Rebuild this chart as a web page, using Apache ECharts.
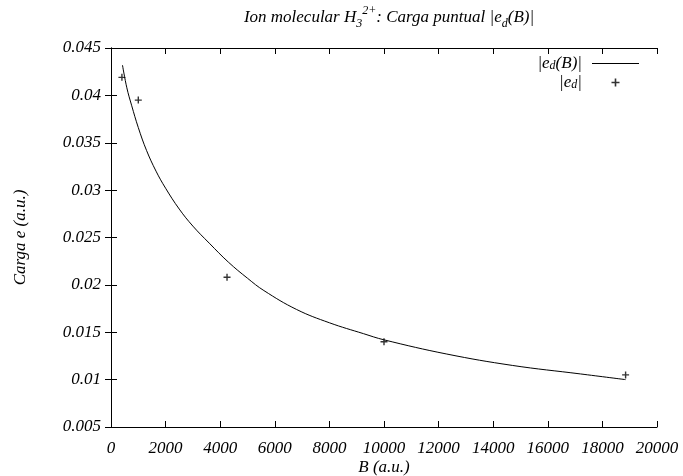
<!DOCTYPE html>
<html>
<head>
<meta charset="utf-8">
<script src="https://cdn.jsdelivr.net/npm/echarts@6/dist/echarts.min.js"></script>
<style>
  html, body { margin: 0; padding: 0; background: #fff; }
  #chart { width: 683px; height: 476px; }
</style>
</head>
<body>
<div id="chart"></div>
<script>
// fitted curve |e_d(B)|
const curveB = [420, 580, 760, 1000, 1300, 1650, 2000, 2500, 3000, 3600, 4300, 5000, 5600, 6800, 8000, 9250, 10000, 12300, 14700, 17200, 18850];
const curveE = [0.0432, 0.0408, 0.0389, 0.0366, 0.0342, 0.0320, 0.0302, 0.0280, 0.0262, 0.0244, 0.0224, 0.0207, 0.0194, 0.0174, 0.0160, 0.01485, 0.0142, 0.0127, 0.0115, 0.0106, 0.0100];

// computed points |e_d|
const pointB = [400, 1000, 4250, 10000, 18850];
const pointE = [0.0419, 0.0395, 0.0208, 0.0140, 0.0105];

const xMin = 0, xMax = 20000, xStep = 2000;
const yMin = 0.005, yMax = 0.045, yStep = 0.005;

const seriesNames = ["|e_d(B)|", "|e_d|"];

const font = "'Liberation Serif', 'Times New Roman', serif";
const plus = "path://M4,0H6V4H10V6H6V10H4V6H0V4H4Z";
const dash = "path://M0,0H47V1H0Z";

const rich = {
  sub: { fontFamily: font, fontStyle: "italic", fontSize: 12, color: "#000", verticalAlign: "bottom", lineHeight: 12 },
  sup: { fontFamily: font, fontStyle: "italic", fontSize: 12, color: "#000", verticalAlign: "top", lineHeight: 12 }
};

const chart = echarts.init(document.getElementById("chart"), null, { renderer: "canvas" });

const axisText = { fontFamily: font, fontStyle: "italic", fontSize: 17, color: "#000" };
const tick = { show: true, inside: true, length: 6, lineStyle: { color: "#000", width: 1 } };
const line = { show: true, lineStyle: { color: "#000", width: 1 } };

chart.setOption({
  backgroundColor: "#fff",
  animation: false,
  title: {
    text: "Ion molecular H{sub|3}{sup|2+}: Carga puntual |e{sub|d}(B)|",
    left: 384,
    textAlign: "center",
    top: 0,
    textStyle: { fontFamily: font, fontStyle: "italic", fontWeight: "normal", fontSize: 17, color: "#000", lineHeight: 25, rich: rich }
  },
  legend: {
    orient: "vertical",
    right: 39,
    top: 50,
    align: "right",
    itemWidth: 47,
    itemHeight: 8,
    itemGap: 2,
    data: [
      { name: seriesNames[0], icon: dash },
      { name: seriesNames[1], icon: plus }
    ],
    formatter: function (n) {
      return n === seriesNames[0] ? "|e{sub|d}(B)|" : "|e{sub|d}|";
    },
    textStyle: { fontFamily: font, fontStyle: "italic", fontSize: 17, color: "#000", lineHeight: 17, padding: [0, 5, 0, 0], rich: rich }
  },
  grid: { left: 111, right: 26, top: 48, bottom: 49, containLabel: false, outerBoundsMode: "none" },
  xAxis: [
    {
      type: "value", min: xMin, max: xMax, interval: xStep, position: "bottom",
      name: "B (a.u.)", nameLocation: "middle", nameGap: 32, nameMoveOverlap: false,
      nameTextStyle: axisText,
      axisLine: line, axisTick: tick, splitLine: { show: false },
      axisLabel: Object.assign({ margin: 13, formatter: v => String(v) }, axisText)
    },
    {
      type: "value", min: xMin, max: xMax, interval: xStep, position: "top",
      axisLine: line, axisTick: tick, splitLine: { show: false },
      axisLabel: { show: false }
    }
  ],
  yAxis: [
    {
      type: "value", min: yMin, max: yMax, interval: yStep, position: "left",
      name: "Carga e (a.u.)", nameLocation: "middle", nameGap: 82, nameMoveOverlap: false,
      nameTextStyle: axisText,
      axisLine: line, axisTick: tick, splitLine: { show: false },
      axisLabel: Object.assign({ margin: 10, formatter: v => String(+v.toFixed(3)) }, axisText)
    },
    {
      type: "value", min: yMin, max: yMax, interval: yStep, position: "right",
      axisLine: line, axisTick: tick, splitLine: { show: false },
      axisLabel: { show: false }
    }
  ],
  series: [
    {
      name: seriesNames[0],
      type: "line",
      xAxisIndex: 0, yAxisIndex: 0,
      data: curveB.map((b, i) => [b, curveE[i]]),
      smooth: 0.4,
      symbol: "none",
      lineStyle: { color: "#000", width: 1 },
      itemStyle: { color: "#000" }
    },
    {
      name: seriesNames[1],
      type: "scatter",
      xAxisIndex: 0, yAxisIndex: 0,
      data: pointB.map((b, i) => [b, pointE[i]]),
      symbol: plus,
      symbolSize: 7,
      itemStyle: { color: "#000" }
    }
  ]
});
</script>
</body>
</html>
